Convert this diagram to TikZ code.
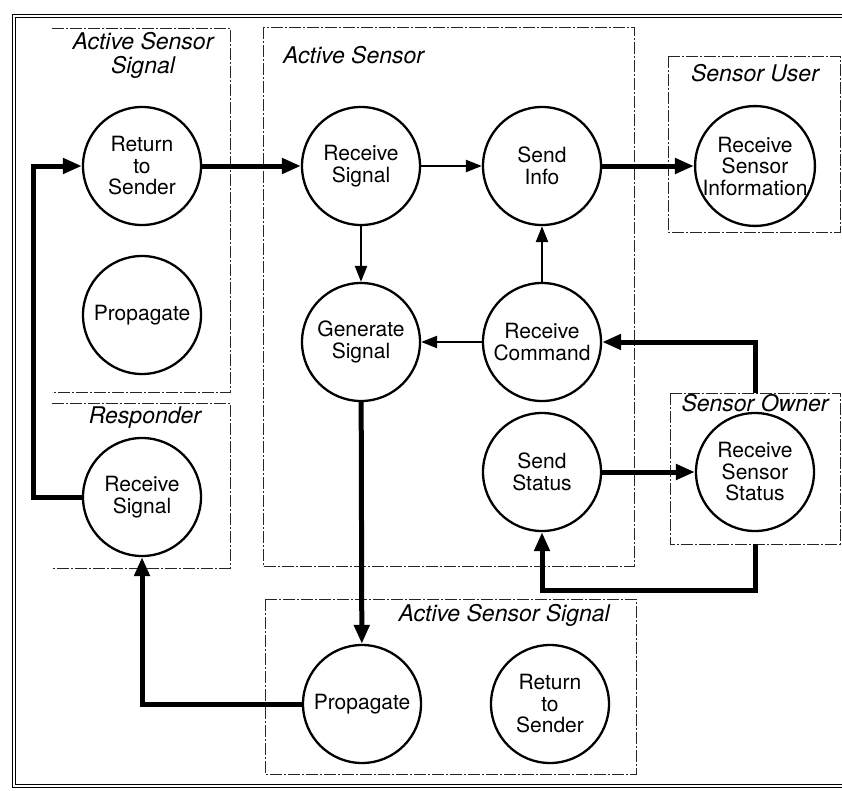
\documentclass[tikz,border=0pt]{standalone}
\usepackage{fontspec}
\setmainfont{TeX Gyre Heros}
\usetikzlibrary{arrows.meta,calc}
\tikzstyle{process}=[circle,draw,line width=2.3pt,minimum size=118pt,inner sep=0pt,align=center,font=\fontsize{21}{21.5}\selectfont]
\tikzstyle{lane}=[line width=0.9pt,draw=black!85,dash pattern=on 12pt off 2pt on 2pt off 2pt]
\tikzstyle{title}=[font=\fontsize{23}{24}\selectfont\itshape,align=center,inner sep=0pt]
\tikzstyle{flow}=[draw=black,line width=2.4pt,-{Triangle[length=16pt,width=12pt]}]
\tikzstyle{bigflow}=[draw=black,line width=5pt,-{Triangle[length=19pt,width=15pt]}]
\tikzstyle{frame}=[line width=1pt,double,double distance=2pt]

\begin{document}
\begin{tikzpicture}[x=1pt,y=-1pt]
  \useasboundingbox (0,0) rectangle (842,790);
  \draw[frame] (842,15.5) -- (13.5,15.5) -- (13.5,785.5) -- (842,785.5);

  % swim lanes
  \draw[lane] (52,28) -- (230,28) -- (230,392) -- (52,392);
  \draw[lane] (52,403) -- (230,403) -- (230,568) -- (52,568);
  \draw[lane] (263,27) rectangle (634,566);
  \draw[lane] (668,56) rectangle (840,232);
  \draw[lane] (670,393) rectangle (840,544);
  \draw[lane] (265,599) rectangle (636,774);

  \node[title] (tasig) at (143,55) {Active Sensor\\Signal};
  \node[title,anchor=west] (tas) at (283,55) {Active Sensor};
  \node[title] (tuser) at (755,73) {Sensor User};
  \node[title] (towner) at (755,403) {Sensor Owner};
  \node[title] (tresp) at (145,418) {Responder};
  \node[title,anchor=east] (tbsig) at (610,615) {Active Sensor Signal};

  \foreach \pos/\name/\txt in {{(142,166)/rtsa/Return\\to\\Sender}, {(142,315)/propa/Propagate},
                               {(142,497)/resp/Receive\\Signal},
                               {(361,166)/rsig/Receive\\Signal}, {(361,342)/gsig/Generate\\Signal},
                               {(542,166)/sinfo/Send\\Info}, {(542,342)/rcmd/Receive\\Command},
                               {(542,472)/sstat/Send\\Status},
                               {(755,166)/rsi/Receive\\Sensor\\Information},
                               {(755,472)/rss/Receive\\Sensor\\Status},
                               {(362,704)/propb/Propagate}, {(550,704)/rtsb/Return\\to\\Sender}}
    \node[process] (\name) at \pos {\txt};

  \coordinate (ownertop) at (755,393);
  \coordinate (ownerbot) at (755,544);

  % Connect processes with flows
  \foreach \source / \dest in {rsig/sinfo, rsig/gsig, rcmd/sinfo, rcmd/gsig}
      \path[flow] (\source) -- (\dest);
  \foreach \source / \dest in {rtsa/rsig, sinfo/rsi, sstat/rss, gsig/propb}
      \path[bigflow] (\source) -- (\dest);
  \path[bigflow] (ownertop) |- (rcmd);
  \path[bigflow] (ownerbot) -- ++(0,46) -| (sstat);
  \path[bigflow] (propb) -| (resp);
  \path[bigflow] (resp.west) -- ++(-48,0) |- (rtsa);
\end{tikzpicture}
\end{document}
